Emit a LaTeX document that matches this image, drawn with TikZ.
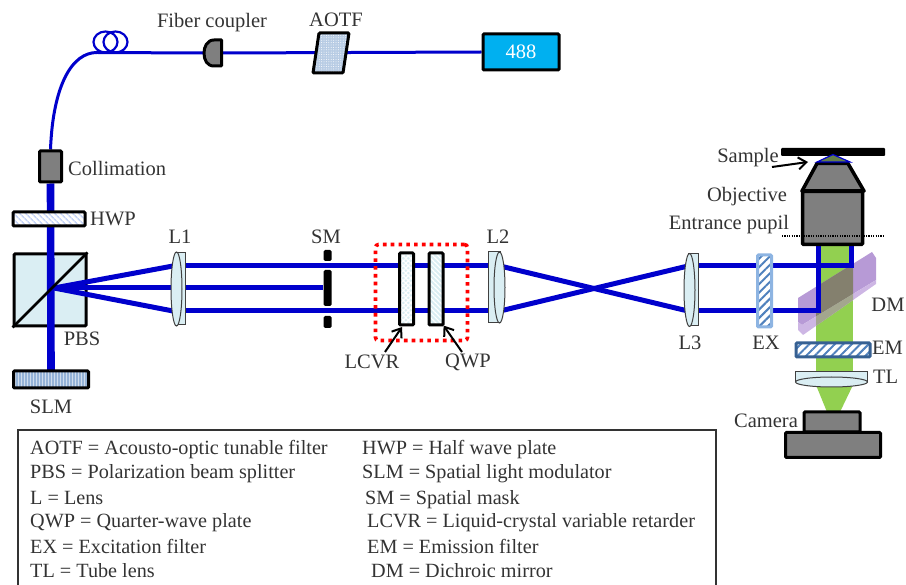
\documentclass[tikz,border=0pt]{standalone}
\usepackage{fontspec}
\setmainfont{Liberation Serif}
\usetikzlibrary{arrows.meta,backgrounds,patterns.meta,shapes.geometric}
\definecolor{beam}{HTML}{0000CC}
\definecolor{glass}{HTML}{DAEEF3}
\definecolor{metal}{HTML}{7F7F7F}
\definecolor{ink}{HTML}{333333}
\definecolor{emission}{HTML}{92D050}
\definecolor{laser}{HTML}{00B0F0}
\definecolor{dichroic}{HTML}{B79AD6}
\definecolor{dichroiclight}{HTML}{CDB6E4}
\definecolor{overlap}{HTML}{84806E}
\definecolor{overlaplight}{HTML}{A3A68E}
\definecolor{hatch}{HTML}{4F81BD}
\definecolor{skyedge}{HTML}{8DB4E2}
\definecolor{navyedge}{HTML}{366092}
\definecolor{paleblue}{HTML}{B8CCE4}
\definecolor{slmblue}{HTML}{95B3D7}

\begin{document}
\begin{tikzpicture}[
  x=1pt, y=-1pt,
  part/.style={draw, line width=3pt, rounded corners=1pt, inner sep=0pt},
  lensbody/.style={draw=black!75, line width=1pt, fill=glass, inner sep=0pt},
  lbl/.style={font=\fontsize{20.5}{22}\selectfont, text=ink, inner sep=0pt},
  legend/.style={font=\fontsize{20.2}{22}\selectfont, text=ink, inner sep=0pt, anchor=base west},
  maskbar/.style={fill=black, rounded corners=1.5pt, minimum width=8pt, inner sep=0pt},
  fiber/.style={draw=beam, line width=3pt},
  ray/.style={draw=beam, line width=5pt},
  pointer/.style={-{Straight Barb[length=8pt,width=12pt]}, line width=2pt}
]
\useasboundingbox (0,0) rectangle (906,585);
% source and fiber
\node[part, fill=laser, minimum width=76pt, minimum height=36pt, text=white, font=\fontsize{20.5}{22}\selectfont] (laser) at (521,52) {488};
\node[draw=none, minimum width=28pt, minimum height=30pt] (aotf) at (331,52) {};
\draw[line width=3pt, rounded corners=1pt, preaction={fill=paleblue}, pattern={Dots[distance=2.4pt,radius=.5pt]}, pattern color=white]
  (319,33) -- (349,33) -- (343,73) -- (313,73) -- cycle;
\node[draw=none, inner sep=0pt, minimum width=18pt, minimum height=27pt] (coupler) at (213,53) {};
\draw[line width=3pt, fill=metal, line join=round] (221.5,40) -- (214,40) .. controls (207,40) and (204,47) .. (204,53) .. controls (204,60) and (207,66) .. (214,66) -- (221.5,66) -- cycle;
\node[ellipse, draw=beam, line width=2.2pt, minimum width=24pt, minimum height=21pt, inner sep=0pt] (loopa) at (105.5,42) {};
\node[ellipse, draw=beam, line width=2.2pt, minimum width=24pt, minimum height=21pt, inner sep=0pt] (loopb) at (115.5,42) {};
\node[part, fill=metal, minimum width=22pt, minimum height=31pt] (collim) at (50.5,166.5) {};
% left arm
\node[part, preaction={fill=white}, pattern={Lines[angle=-45,distance=4pt,line width=1.6pt]}, pattern color=glass!85!blue!80!white, minimum width=72pt, minimum height=14pt] (hwp) at (49,219) {};
\node[part, preaction={fill=slmblue}, pattern={Lines[angle=90,distance=3pt,line width=.8pt]}, pattern color=white!55!slmblue, minimum width=75pt, minimum height=17pt] (slm) at (51,379.5) {};
\begin{scope}[on background layer]
\node[part, fill=glass, minimum width=72pt, minimum height=72pt] (pbs) at (50,290) {};
\end{scope}
\draw[line width=2.8pt] (pbs.south west) -- (pbs.north east);
% lenses
\node[lensbody, minimum width=10pt, minimum height=72pt] (lensa) at (180,288.5) {};
\node[lensbody, ellipse, minimum width=11pt, minimum height=74pt] (lensacurve) at (176.5,289) {};
\node[lensbody, minimum width=12pt, minimum height=71pt] (lensb) at (494,287.5) {};
\node[lensbody, ellipse, minimum width=11pt, minimum height=71pt] (lensbcurve) at (499.5,287.5) {};
\node[lensbody, minimum width=10pt, minimum height=72pt] (lensc) at (693.5,290) {};
\node[lensbody, ellipse, minimum width=11pt, minimum height=73pt] (lenscurve) at (689.5,290) {};
% spatial mask
\node[maskbar, minimum height=11pt] (maska) at (327.5,255.5) {};
\node[maskbar, minimum height=36pt] (maskb) at (327.5,288) {};
\node[maskbar, minimum height=12pt] (maskc) at (327.5,322) {};
% retarders
\node[part, preaction={fill=glass}, pattern={Hatch[distance=3.5pt,angle=45,line width=1.2pt]}, pattern color=white, minimum width=14pt, minimum height=72pt] (lcvr) at (406.5,289) {};
\node[part, preaction={fill=glass}, pattern={Lines[angle=-45,distance=3.5pt,line width=1.2pt]}, pattern color=white, minimum width=14pt, minimum height=72pt] (qwp) at (436,289) {};
\node[draw=red, line width=3.6pt, dash pattern=on 3.6pt off 4.2pt, rounded corners=3pt, minimum width=92pt, minimum height=96pt, inner sep=0pt] (redbox) at (421.5,292.5) {};
% filters
\node[draw=skyedge, line width=3pt, rounded corners=1pt, preaction={fill=white}, pattern={Lines[angle=45,distance=6pt,line width=2pt]}, pattern color=hatch, minimum width=14pt, minimum height=72pt, inner sep=0pt] (ex) at (764.5,291) {};
\node[part, draw=navyedge, preaction={fill=white}, pattern={Lines[angle=45,distance=6pt,line width=2pt]}, pattern color=hatch, minimum width=74pt, minimum height=14pt] (em) at (833,350) {};
\node[lensbody, minimum width=72pt, minimum height=10pt] (tube) at (831.5,377) {};
\node[lensbody, ellipse, minimum width=72pt, minimum height=10pt] (tubecurve) at (831.5,382) {};
% objective and camera
\node[part, line width=3.5pt, fill=metal, minimum width=60pt, minimum height=53pt] (objective) at (832.5,218) {};
\draw[line width=3.5pt, fill=metal, line join=round] (802,191) -- (817,163.5) -- (848,163.5) -- (864,191) -- cycle;
\node[fill=black, rounded corners=1pt, minimum width=104pt, minimum height=8pt, inner sep=0pt] (sample) at (833,152) {};
\draw[beam, line width=1.2pt, fill=emission!50!black!85!white] (817,162) -- (833,154.5) -- (850,162) -- cycle;
\node[part, fill=metal, minimum width=56pt, minimum height=20pt] (camtop) at (832,422) {};
\node[part, fill=metal, minimum width=95pt, minimum height=25pt] (cambase) at (833,445) {};
\draw[dash pattern=on 1.2pt off 1.2pt, line width=1.2pt] (782,236) -- (883,236);
% beams go behind the parts
\coordinate (focus) at (54,288);
\coordinate (lensaup) at (173,266);
\coordinate (lensamid) at (173,288);
\coordinate (lensadn) at (173,311);
\coordinate (lensbup) at (500,266);
\coordinate (lensbdn) at (500,311);
\coordinate (lenscup) at (688,266);
\coordinate (lenscdn) at (688,311);
\coordinate (dmup) at (851.5,266);
\coordinate (dmdn) at (818.5,311);
\begin{scope}[on background layer]
\fill[emission] (816,245) rectangle (853,385);
\fill[emission] (816,385) -- (853,385) -- (840,412) -- (827,412) -- cycle;
% dichroic
\fill[dichroic] (798,298) -- (872,252) -- (876,258) -- (876,280) -- (802,325) -- (798,322) -- cycle;
\fill[dichroiclight] (798,322) -- (802,325) -- (876,280) -- (876,284) -- (803,335) -- (798,330) -- cycle;
\begin{scope}
\clip (816,245) rectangle (853,385);
\fill[overlap] (798,298) -- (872,252) -- (876,258) -- (876,280) -- (802,325) -- (798,322) -- cycle;
\fill[overlaplight] (798,322) -- (802,325) -- (876,280) -- (876,284) -- (803,335) -- (798,330) -- cycle;
\end{scope}
\node[inner sep=0pt, minimum width=76pt, minimum height=82pt] (dm) at (837,294) {};
\end{scope}
\begin{scope}[on background layer]
\draw[ray, line width=7.6pt] (collim.south) -- (slm.north);
\draw[ray] (focus) -- (lensaup);
\draw[ray] (focus) -- (lensamid);
\draw[ray] (focus) -- (lensadn);
\draw[ray] (lensaup) -- (lensbup);
\draw[ray] (lensamid) -- (maskb);
\draw[ray] (lensadn) -- (lensbdn);
\draw[ray] (lensbup) -- (lenscdn);
\draw[ray] (lensbdn) -- (lenscup);
\draw[ray] (lenscup) -- (dmup) -- (dmup |- objective.south);
\draw[ray] (lenscdn) -- (dmdn) -- (dmdn |- objective.south);
\draw[fiber] (laser.west) -- (coupler.east);
\draw[fiber] (coupler.west) -- (97,52.5) .. controls (72,52.5) and (53,85) .. (collim.north);
\end{scope}
% labels
\node[lbl] (couplertext) at (212,23) {Fiber coupler};
\node[lbl] (aotftext) at (336,20) {AOTF};
\node[lbl, anchor=west] (collimtext) at (68,168) {Collimation};
\node[lbl, anchor=west] (hwptext) at (90,219) {HWP};
\node[lbl] (pbstext) at (82,339) {PBS};
\node[lbl] (slmtext) at (51,407) {SLM};
\node[lbl] (lensatext) at (180,237) {L1};
\node[lbl] (masktext) at (326,237) {SM};
\node[lbl] (lensbtext) at (498,237) {L2};
\node[lbl] (lcvrtext) at (372,362) {LCVR};
\node[lbl] (qwptext) at (468,362) {QWP};
\node[lbl] (lensctext) at (690,343) {L3};
\node[lbl] (extext) at (766,343) {EX};
\node[lbl] (sampletext) at (748,158) {Sample};
\node[lbl] (objectivetext) at (747,197) {Objective};
\node[lbl] (pupiltext) at (729,225) {Entrance pupil};
\node[lbl] (dmtext) at (888,305) {DM};
\node[lbl, anchor=west] (emtext) at (872,348) {EM};
\node[lbl, anchor=west] (tubetext) at (873,377) {TL};
\node[lbl] (cameratext) at (766,421) {Camera};
\coordinate (lcvrtail) at (385,352);
\coordinate (lcvrtip) at (402,327);
\coordinate (qwptail) at (462,352);
\coordinate (sampletail) at (772,167);
\coordinate (sampletip) at (808,162);
\draw[pointer] (lcvrtail) -- (lcvrtip);
\draw[pointer] (qwptail) -- (qwp.south east);
\draw[pointer] (sampletail) -- (sampletip);
% legend
\draw[line width=1.3pt, draw=black!80] (18,585) -- (18,430) -- (716,430) -- (716,585);
\node[legend] (rowa) at (30,455) {AOTF = Acousto-optic tunable filter};
\node[legend] (rowb) at (30,479) {PBS = Polarization beam splitter};
\node[legend] (rowc) at (30,504) {L = Lens};
\node[legend] (rowd) at (30,528) {QWP = Quarter-wave plate};
\node[legend] (rowe) at (30,553) {EX = Excitation filter};
\node[legend] (rowf) at (30,577) {TL = Tube lens};
\node[legend] (rowg) at (362,455) {HWP = Half wave plate};
\node[legend] (rowh) at (362,479) {SLM = Spatial light modulator};
\node[legend] (rowi) at (365,504) {SM = Spatial mask};
\node[legend] (rowj) at (367,528) {LCVR = Liquid-crystal variable retarder};
\node[legend] (rowk) at (367,553) {EM = Emission filter};
\node[legend] (rowl) at (371,577) {DM = Dichroic mirror};
\end{tikzpicture}
\end{document}
